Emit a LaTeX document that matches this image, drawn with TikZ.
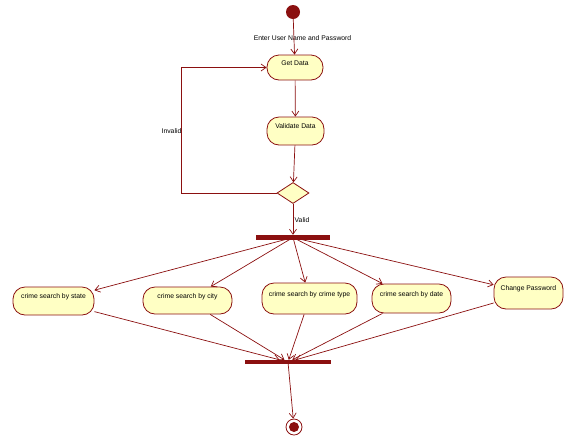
\documentclass[tikz,border=0pt]{standalone}
\usepackage{fontspec}
\setmainfont{Liberation Sans}
\usetikzlibrary{shapes.geometric,arrows.meta}
\definecolor{umlred}{HTML}{8B1010}
\definecolor{umlfill}{HTML}{FFFFC4}
\begin{document}
\begin{tikzpicture}[x=1pt,y=-1pt,
  every node/.style={font=\fontsize{6.8pt}{7.5pt}\selectfont},
  act/.style={draw=umlred, fill=umlfill, line width=0.8pt, rounded corners=12pt,
    inner sep=0pt, text height=5pt, text depth=10pt},
  bar/.style={fill=umlred, draw=none, inner sep=0pt},
  arr/.style={draw=umlred, line width=0.7pt, -{Straight Barb[length=5pt,width=7pt]}},
  lbl/.style={inner sep=0pt}]
\useasboundingbox (0,0) rectangle (564,440);
\node[circle, fill=umlred, inner sep=0pt, minimum size=14pt] (start) at (293,12) {};
\node[act, minimum width=56pt, minimum height=25pt] (getdata) at (295,67.5) {Get Data};
\node[act, minimum width=57pt, minimum height=28pt] (validate) at (295.5,131) {Validate Data};
\node[diamond, draw=umlred, fill=umlfill, line width=0.8pt, inner sep=0pt, aspect=1.5,
  minimum width=32pt, minimum height=21pt] (dec) at (293,193) {};
\node[bar, minimum width=74pt, minimum height=5pt] (fork) at (293,237.5) {};
\node[act, minimum width=81pt, minimum height=28pt] (state) at (53.5,301) {crime search by state};
\node[act, minimum width=89pt, minimum height=27pt] (city) at (187.5,300.5) {crime search by city};
\node[act, minimum width=95pt, minimum height=31pt] (ctype) at (309.5,298.5) {crime search by crime type};
\node[act, minimum width=79pt, minimum height=29pt] (date) at (411.5,298.5) {crime search by date};
\node[act, minimum width=69pt, minimum height=32pt] (pwd) at (528.5,293) {Change Password};
\node[bar, minimum width=86pt, minimum height=4pt] (join) at (288,362) {};
\node[circle, draw=umlred, line width=0.8pt, fill=white, inner sep=0pt, minimum size=16pt] (end) at (294,427) {};
\fill[umlred] (end.center) circle (5pt);
\coordinate (loopx) at (181,0);

\node[lbl] (l1) at (302.5,38) {Enter User Name and Password};
\node[lbl] (l2) at (171.5,131) {Invalid};
\node[lbl] (l3) at (302,220) {Valid};

\draw[arr] (start) -- (getdata);
\draw[arr] (getdata) -- (validate);
\draw[arr] (validate) -- (dec);
\draw[arr] (dec.west) -- (dec.west -| loopx) |- (getdata.west);
\draw[arr] (dec) -- (fork);
\foreach \n in {state,city,ctype,date,pwd} {
  \draw[arr] (fork.center) -- (\n);
  \draw[arr] (\n) -- (join);
}
\draw[arr] (join) -- (end);
\end{tikzpicture}
\end{document}
